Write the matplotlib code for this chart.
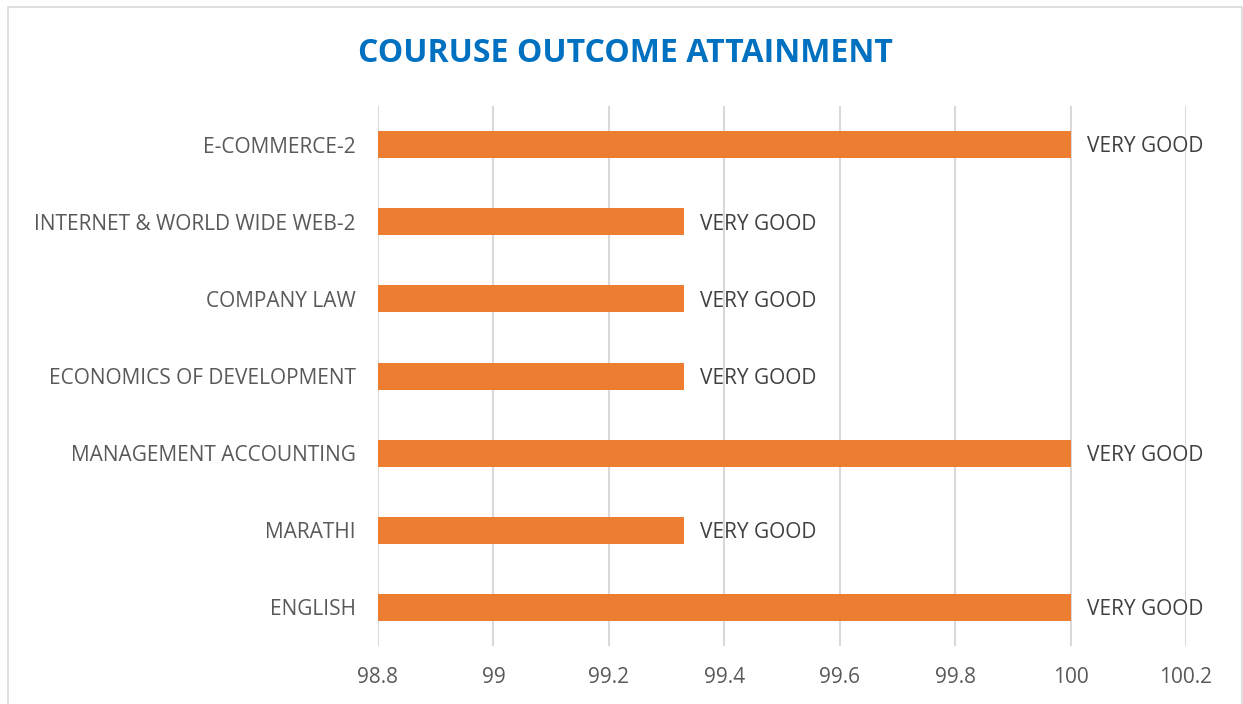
import matplotlib.pyplot as plt
from matplotlib.patches import Rectangle

courses = ['ENGLISH', 'MARATHI', 'MANAGEMENT ACCOUNTING', 'ECONOMICS OF DEVELOPMENT',
           'COMPANY LAW', 'INTERNET & WORLD WIDE WEB-2', 'E-COMMERCE-2']
attainment = [100, 99.33, 100, 99.33, 99.33, 99.33, 100]
grades = ['VERY GOOD'] * 7
xticks = [98.8, 99, 99.2, 99.4, 99.6, 99.8, 100, 100.2]
xtick_labels = ['98.8', '99', '99.2', '99.4', '99.6', '99.8', '100', '100.2']

plt.rcParams['font.family'] = ['Open Sans', 'DejaVu Sans']
grey = '#595959'

fig = plt.figure(figsize=(12.43, 7.04), dpi=100)
ax = fig.add_axes([378 / 1243, 58 / 704, 808 / 1243, 540 / 704])

ax.barh(range(len(courses)), [v - 98.8 for v in attainment], left=98.8,
        height=0.35, color='#ED7D31', zorder=3)

for i, (v, g) in enumerate(zip(attainment, grades)):
    ax.text(v + 0.028, i - 0.03, g, va='center', ha='left', fontsize=15, color='#404040')

ax.set_xlim(98.8, 100.2)
ax.set_ylim(-0.5, len(courses) - 0.5)
ax.set_xticks(xticks)
ax.set_xticklabels(xtick_labels)
ax.set_yticks(range(len(courses)))
ax.set_yticklabels(courses)
ax.tick_params(axis='both', length=0, labelsize=15, labelcolor=grey)
ax.tick_params(axis='x', pad=15)
ax.tick_params(axis='y', pad=16)
ax.grid(axis='x', color='#D9D9D9', linewidth=1.5, zorder=0)
for s in ax.spines.values():
    s.set_visible(False)

fig.text(625 / 1243, 1 - 53 / 704, 'COURUSE OUTCOME ATTAINMENT', ha='center', va='center',
         fontsize=23, fontweight='bold', color='#0070C0')

fig.patches.append(Rectangle((8 / 1243, -0.01), 1234 / 1243, 1 - 7 / 704 + 0.01,
                             transform=fig.transFigure, fill=False,
                             edgecolor='#D9D9D9', linewidth=1.2))

plt.savefig('out.png', dpi=100)
